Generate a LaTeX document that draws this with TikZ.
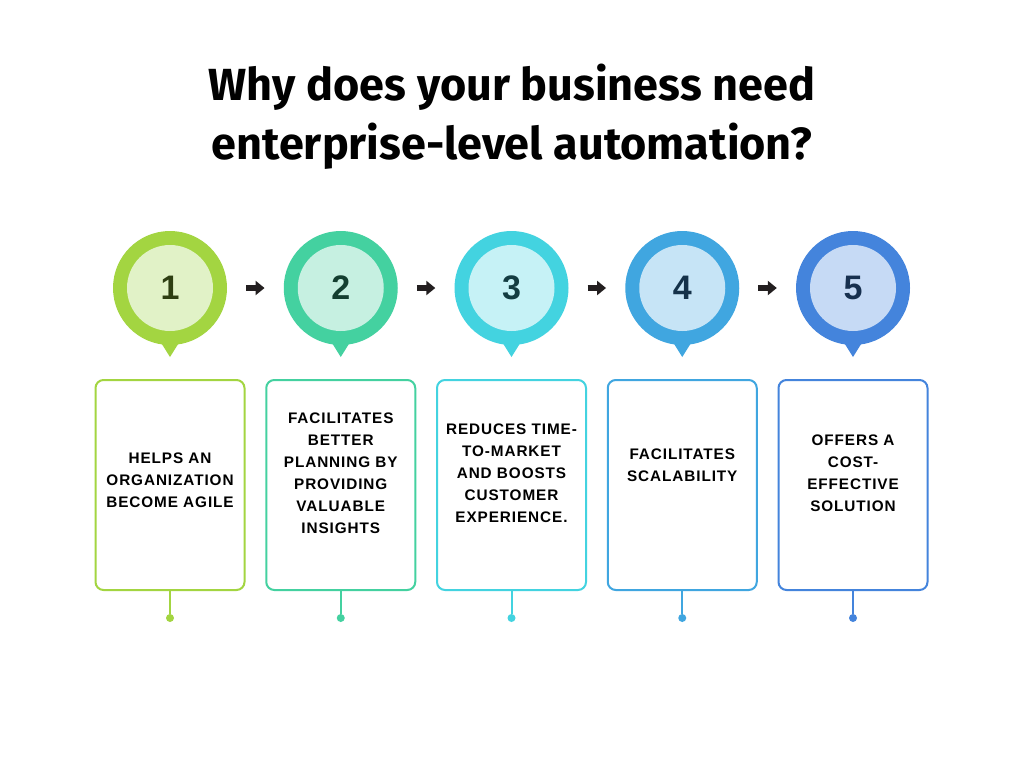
\documentclass[tikz,border=0pt]{standalone}
\usepackage{fontspec}
\setmainfont{Liberation Sans}
\newfontfamily\titlefont{Fira Sans}
\newfontfamily\bodyfont[LetterSpace=6]{Liberation Sans}
\usetikzlibrary{arrows.meta,calc}
\definecolor{o1}{HTML}{A3D541}\definecolor{i1}{HTML}{E1F2C7}\definecolor{n1}{HTML}{2E3F12}
\definecolor{o2}{HTML}{44D1A0}\definecolor{i2}{HTML}{C6F0E1}\definecolor{n2}{HTML}{133F30}
\definecolor{o3}{HTML}{43D3E0}\definecolor{i3}{HTML}{C6F2F6}\definecolor{n3}{HTML}{133D42}
\definecolor{o4}{HTML}{40A6E0}\definecolor{i4}{HTML}{C6E4F6}\definecolor{n4}{HTML}{15324A}
\definecolor{o5}{HTML}{4484DC}\definecolor{i5}{HTML}{C6DAF5}\definecolor{n5}{HTML}{17304F}
\definecolor{arr}{HTML}{231F20}
\tikzset{
  outerc/.style={circle, minimum size=114pt, inner sep=0pt},
  innerc/.style={circle, minimum size=86pt, inner sep=0pt, font=\bfseries\fontsize{34}{34}\selectfont},
  card/.style={line width=2pt, rounded corners=8pt, minimum width=149pt, minimum height=210pt, inner sep=0pt},
  cardtext/.style={align=center, font=\bodyfont\bfseries\fontsize{15.3}{22}\selectfont, inner sep=0pt},
  enddot/.style={circle, minimum size=8pt, inner sep=0pt},
  stepper/.style={arr, line width=6pt, -{Triangle[length=9pt,width=14pt]}}
}
\begin{document}
\begin{tikzpicture}[x=1pt,y=-1pt]
\fill[white] (0,0) rectangle (1024,768);
\useasboundingbox (0,0) rectangle (1024,768);
\node[font=\titlefont\bfseries\fontsize{45}{59}\selectfont, align=center, inner sep=0pt] (title) at (512,117) {Why does your business need\\enterprise-level automation?};
\foreach \i in {1,...,5} {
  \pgfmathsetmacro{\cx}{170+(\i-1)*170.75}
  \fill[o\i] (\cx-10,341) -- (\cx,357) -- (\cx+10,341) -- cycle;
  \node[outerc, fill=o\i] (c\i) at (\cx,288) {};
  \node[innerc, fill=i\i, text=n\i] (n\i) at (\cx,288) {\i};
  \node[card, draw=o\i] (b\i) at (\cx,485) {};
  \node[enddot, fill=o\i] (d\i) at (\cx,618) {};
  \draw[o\i, line width=2pt] (b\i.south) -- (d\i);
}
\foreach \a/\b in {1/2,2/3,3/4,4/5} {
  \draw[stepper] ($(c\a.east)+(19,0)$) -- ($(c\b.west)+(-19,0)$);
}
\node[cardtext] (t1) at (170,480) {HELPS AN\\ORGANIZATION\\BECOME AGILE};
\node[cardtext] (t2) at (340.75,473) {FACILITATES\\BETTER\\PLANNING BY\\PROVIDING\\VALUABLE\\INSIGHTS};
\node[cardtext] (t3) at (511.5,473) {REDUCES TIME-\\TO-MARKET\\AND BOOSTS\\CUSTOMER\\EXPERIENCE.};
\node[cardtext] (t4) at (682.25,465) {FACILITATES\\SCALABILITY};
\node[cardtext] (t5) at (853,473) {OFFERS A\\COST-\\EFFECTIVE\\SOLUTION};
\end{tikzpicture}
\end{document}
